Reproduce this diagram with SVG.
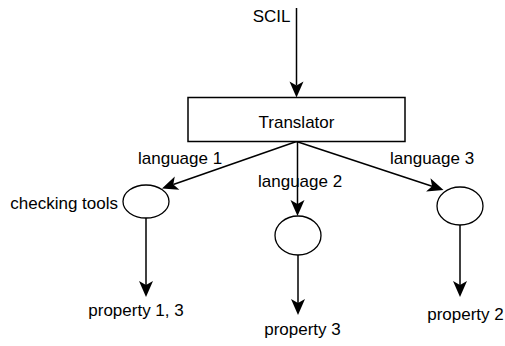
<svg xmlns="http://www.w3.org/2000/svg" width="505" height="346" viewBox="0 0 505 346">
  <style>
    text { font-family: "Liberation Sans", Arial, sans-serif; font-size: 17px; fill: #000; }
    .box { fill: #fff; stroke: #000; stroke-width: 1.5; }
    .node { fill: #fff; stroke: #000; stroke-width: 1.3; }
    .edge { fill: none; stroke: #000; stroke-width: 1.5; marker-end: url(#arrow); }
  </style>
  <defs>
    <!-- classic notched arrowhead; reference point sits at the notch -->
    <marker id="arrow" markerUnits="userSpaceOnUse" viewBox="-17 -8 18 16" refX="-12" refY="0" markerWidth="18" markerHeight="16" orient="auto">
      <path d="M0,0 L-16,-7 L-12,0 L-16,7 Z" fill="#000"/>
    </marker>
  </defs>

  <g id="connectors">
    <line class="edge" x1="296.5" y1="8" x2="296.5" y2="85.5"/>
    <line class="edge" x1="296.5" y1="141.5" x2="173.3" y2="184.5"/>
    <line class="edge" x1="297.5" y1="141.5" x2="297.5" y2="204"/>
    <line class="edge" x1="296.5" y1="141.5" x2="432.1" y2="186.2"/>
    <line class="edge" x1="146" y1="218" x2="146" y2="285"/>
    <line class="edge" x1="298" y1="255" x2="298" y2="303"/>
    <line class="edge" x1="460" y1="225" x2="460" y2="285"/>
  </g>

  <g id="scil-input">
    <text x="290.5" y="22" text-anchor="end">SCIL</text>
  </g>

  <g id="translator">
    <rect class="box" x="188" y="97.5" width="217" height="44"/>
    <text x="296.5" y="128" text-anchor="middle">Translator</text>
  </g>

  <g id="label-language-1">
    <text x="138" y="164">language 1</text>
  </g>
  <g id="label-language-2">
    <text x="258" y="187">language 2</text>
  </g>
  <g id="label-language-3">
    <text x="390" y="164">language 3</text>
  </g>

  <g id="checker-1">
    <ellipse class="node" cx="146" cy="201.5" rx="23" ry="16.5"/>
    <text x="118" y="209" text-anchor="end">checking tools</text>
  </g>
  <g id="checker-2">
    <ellipse class="node" cx="298" cy="235.5" rx="23" ry="19.5"/>
  </g>
  <g id="checker-3">
    <ellipse class="node" cx="460" cy="206" rx="23" ry="19"/>
  </g>

  <g id="result-1">
    <text x="136" y="316" text-anchor="middle">property 1, 3</text>
  </g>
  <g id="result-2">
    <text x="302.5" y="335" text-anchor="middle">property 3</text>
  </g>
  <g id="result-3">
    <text x="465.5" y="320" text-anchor="middle">property 2</text>
  </g>
</svg>
